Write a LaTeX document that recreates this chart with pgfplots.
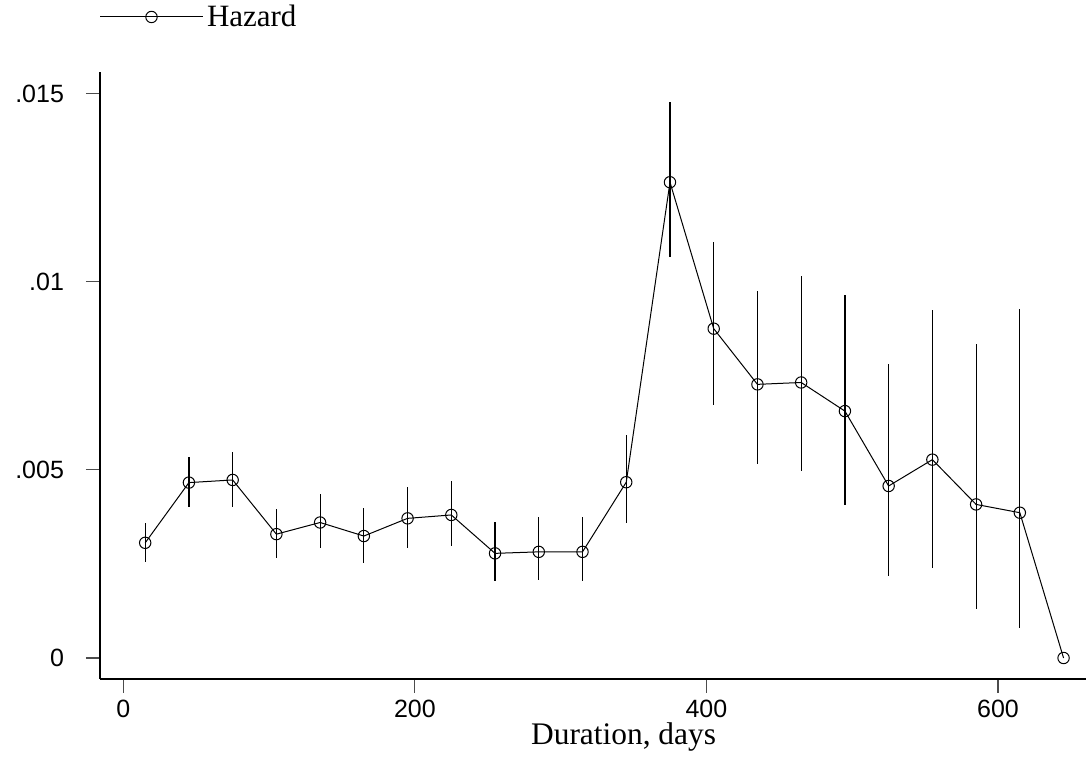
\documentclass[border=0pt]{standalone}
\usepackage{fontspec}
\setmainfont{Liberation Serif}
\newfontfamily\tickfont{Liberation Sans}
\usepackage{pgfplots}
\usepackage{pgfplotstable}
\pgfplotsset{compat=1.18}
\pgfplotstableread{
x y lo hi
15 0.00306 0.00256 0.00358
45 0.00466 0.00402 0.00533
75 0.00473 0.00402 0.00547
105 0.00329 0.00265 0.00396
135 0.00360 0.00291 0.00435
165 0.00324 0.00253 0.00398
195 0.00371 0.00293 0.00455
225 0.00380 0.00298 0.00470
255 0.00278 0.00205 0.00361
285 0.00282 0.00206 0.00374
315 0.00282 0.00204 0.00375
345 0.00467 0.00358 0.00592
375 0.01264 0.01066 0.01477
405 0.00875 0.00671 0.01105
435 0.00727 0.00515 0.00976
465 0.00732 0.00497 0.01015
495 0.00656 0.00406 0.00964
525 0.00457 0.00218 0.00782
555 0.00527 0.00240 0.00924
585 0.00408 0.00131 0.00834
615 0.00386 0.00079 0.00928
645 0 0 0
}\hazard
\begin{document}
\begin{tikzpicture}
\begin{axis}[
  name=ax,
  anchor=south west,
  at={(0pt,0pt)},
  scale only axis,
  width=493pt, height=303.5pt,
  xmin=-16, xmax=660.4,
  ymin=-0.000558, ymax=0.015569,
  axis lines*=left,
  axis line style={-, line width=0.7pt, black},
  tick align=outside,
  major tick length=7pt,
  tick style={line width=0.6pt, black!70},
  xtick={0,200,400,600},
  xticklabels={0,200,400,600},
  ytick={0,0.005,0.01,0.015},
  yticklabels={0,.005,.01,.015},
  scaled y ticks=false,
  ticklabel style={font=\tickfont\fontsize{12.5}{14}\selectfont},
  xticklabel style={anchor=north, yshift=0pt},
  yticklabel style={anchor=east, xshift=-7.5pt},
  xlabel={Duration, days},
  xlabel style={font=\fontsize{15.7}{17}\selectfont, at={(axis description cs:0.531,0)}, anchor=base, yshift=-33pt},
  legend style={draw=none, fill=none, at={(axis description cs:0,1)}, anchor=west, yshift=27.5pt, xshift=0pt, inner sep=0pt, outer sep=0pt, font=\fontsize{15.5}{17}\selectfont},
  legend cell align=left,
  legend image code/.code={
    \draw[black, line width=0.5pt] (0pt,0pt) -- (51pt,0pt);
    \draw[black, line width=0.5pt] (25.5pt,0pt) circle (2.85pt);
  },
  clip=false,
]
\addplot[black, line width=0.5pt, mark=o, mark size=2.85pt,
  mark options={line width=0.5pt},
  error bars/.cd, y dir=both, y explicit, error mark=none,
  error bar style={line width=0.6pt, black}]
  table[x=x, y=y, y error plus expr=\thisrow{hi}-\thisrow{y}, y error minus expr=\thisrow{y}-\thisrow{lo}] {\hazard};
\addlegendentry{Hazard}
\end{axis}
\pgfresetboundingbox
\path (-50pt,-40pt) rectangle (493pt,339.5pt);
\end{tikzpicture}
\end{document}
